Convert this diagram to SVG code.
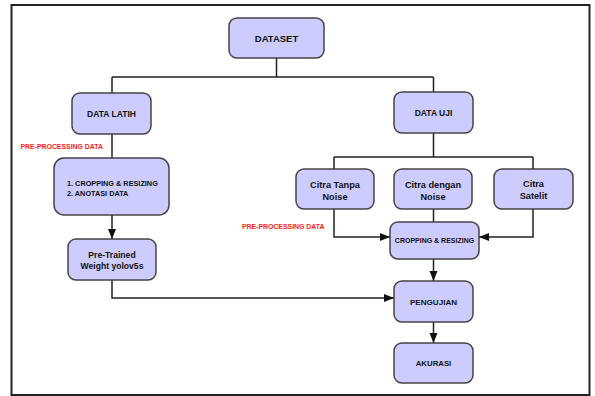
<svg xmlns="http://www.w3.org/2000/svg" width="595" height="396" viewBox="0 0 595 396">
<style>
.box{fill:#ccccff;stroke:#444;stroke-width:1.5}
.t{font-family:"Liberation Sans",Arial,sans-serif;font-weight:bold;fill:#111;text-anchor:middle}
.red{font-family:"Liberation Sans",Arial,sans-serif;font-weight:bold;fill:#ff1a1a;font-size:6.9px}
.c{fill:none;stroke:#222;stroke-width:1.5}
</style>
<defs>
<marker id="ah" markerUnits="userSpaceOnUse" markerWidth="10" markerHeight="10" viewBox="0 0 10 10" refX="10" refY="5" orient="auto">
<path d="M0,1 L10,5 L0,9 Z" fill="#111"/>
</marker>
</defs>
<rect x="11.5" y="5" width="578" height="390" fill="#fff" stroke="#222" stroke-width="2"/>
<g id="connectors">
<path class="c" d="M276.5,58 V77 M112,77 H433.5 M112,77 V93 M433.5,77 V92"/>
<path class="c" d="M112,134 V158"/>
<path class="c" d="M112,215 V239" marker-end="url(#ah)"/>
<path class="c" d="M112,280 V298 H394" marker-end="url(#ah)"/>
<path class="c" d="M433.5,133 V157 M334,157 H533 M334,157 V169 M533,157 V169"/>
<path class="c" d="M433.5,209 V222"/>
<path class="c" d="M334,209 V237 H390" marker-end="url(#ah)"/>
<path class="c" d="M533,209 V237 H479" marker-end="url(#ah)"/>
<path class="c" d="M433.5,259 V281" marker-end="url(#ah)"/>
<path class="c" d="M433.5,322 V343" marker-end="url(#ah)"/>
</g>
<g id="dataset"><rect class="box" x="229" y="18" width="95" height="40" rx="8"/><text class="t" x="276.5" y="41.5" font-size="9.5">DATASET</text></g>
<g id="data-latih"><rect class="box" x="72" y="93" width="79" height="41" rx="8"/><text class="t" x="111.5" y="116.5" font-size="8.5">DATA LATIH</text></g>
<g id="data-uji"><rect class="box" x="394" y="92" width="79" height="41" rx="8"/><text class="t" x="433.5" y="115.5" font-size="8.5">DATA UJI</text></g>
<g id="preproc-latih"><rect class="box" x="54" y="158" width="115" height="57" rx="10"/><text class="t" x="67" y="185.5" font-size="7.3" text-anchor="start" style="text-anchor:start">1. CROPPING &amp; RESIZING</text><text class="t" x="67" y="195.5" font-size="7.3" style="text-anchor:start">2. ANOTASI DATA</text></g>
<g id="pretrained"><rect class="box" x="68" y="239" width="88" height="41" rx="8"/><text class="t" x="112" y="258" font-size="8.6">Pre-Trained</text><text class="t" x="112" y="269" font-size="8.6">Weight yolov5s</text></g>
<g id="citra-tanpa-noise"><rect class="box" x="296" y="169" width="78" height="40" rx="8"/><text class="t" x="335" y="188" font-size="9.2">Citra Tanpa</text><text class="t" x="335" y="200" font-size="9.2">Noise</text></g>
<g id="citra-dengan-noise"><rect class="box" x="394" y="169" width="78" height="40" rx="8"/><text class="t" x="433" y="188" font-size="9.2">Citra dengan</text><text class="t" x="433" y="200" font-size="9.2">Noise</text></g>
<g id="citra-satelit"><rect class="box" x="494" y="169" width="79" height="40" rx="8"/><text class="t" x="533.5" y="187" font-size="9.2">Citra</text><text class="t" x="533.5" y="199" font-size="9.2">Satelit</text></g>
<g id="cropping-resizing"><rect class="box" x="390" y="222" width="89" height="37" rx="8"/><text class="t" x="434.5" y="243" font-size="7">CROPPING &amp; RESIZING</text></g>
<g id="pengujian"><rect class="box" x="394" y="281" width="79" height="41" rx="8"/><text class="t" x="433.5" y="304.5" font-size="8.1">PENGUJIAN</text></g>
<g id="akurasi"><rect class="box" x="394" y="343" width="79" height="40" rx="8"/><text class="t" x="433.5" y="366" font-size="7.8">AKURASI</text></g>
<text class="red" x="20.5" y="148.5">PRE-PROCESSING DATA</text>
<text class="red" x="242" y="228.5">PRE-PROCESSING DATA</text>
</svg>
